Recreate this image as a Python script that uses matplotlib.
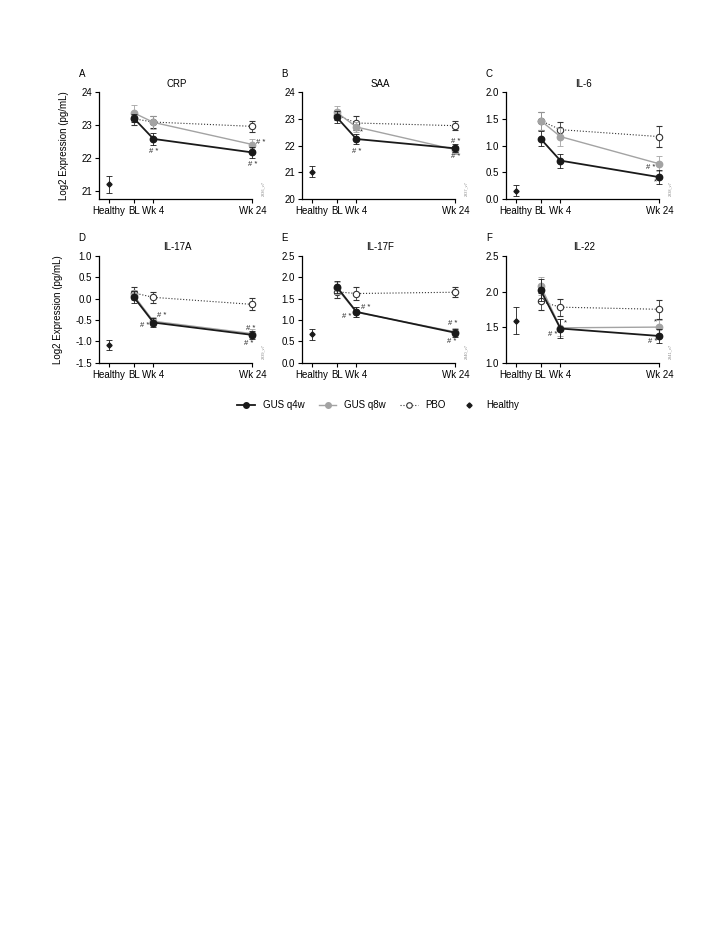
import numpy as np
import matplotlib
matplotlib.use('Agg')
import matplotlib.pyplot as plt
from matplotlib.lines import Line2D

plt.rcParams['font.family'] = ['Liberation Sans', 'DejaVu Sans']
plt.rcParams['axes.unicode_minus'] = False

# data
panels = ['CRP', 'SAA', 'IL-6', 'IL-17A', 'IL-17F', 'IL-22']
letters = ['A', 'B', 'C', 'D', 'E', 'F']
weeks = [0, 4, 24]
healthy_x = -5
xtick_pos = [-5, 0, 4, 24]
xtick_labels = ['Healthy', 'BL', 'Wk 4', 'Wk 24']
codes = ['2836_v7', '2837_v7', '2838_v7', '2839_v7', '2840_v7', '2841_v7']

q4w_mean = [[23.22, 22.59, 22.18], [23.07, 22.25, 21.90], [1.13, 0.72, 0.41],
            [0.04, -0.56, -0.85], [1.78, 1.19, 0.70], [2.02, 1.48, 1.375]]
q4w_err = [[0.12, 0.18, 0.18], [0.22, 0.19, 0.15], [0.14, 0.13, 0.13],
           [0.14, 0.10, 0.10], [0.14, 0.12, 0.10], [0.15, 0.13, 0.10]]
q8w_mean = [[23.38, 23.09, 22.42], [23.25, 22.70, 21.85], [1.47, 1.17, 0.66],
            [0.08, -0.53, -0.82], [1.75, 1.18, 0.72], [2.08, 1.49, 1.50]]
q8w_err = [[0.24, 0.20, 0.17], [0.25, 0.20, 0.15], [0.17, 0.17, 0.14],
           [0.12, 0.10, 0.10], [0.13, 0.12, 0.10], [0.13, 0.12, 0.10]]
pbo_mean = [[23.20, 23.10, 22.97], [23.15, 22.85, 22.75], [1.47, 1.30, 1.17],
            [0.135, 0.03, -0.135], [1.66, 1.62, 1.65], [1.86, 1.78, 1.75]]
pbo_err = [[0.20, 0.18, 0.16], [0.20, 0.25, 0.18], [0.17, 0.15, 0.20],
           [0.13, 0.13, 0.14], [0.14, 0.15, 0.12], [0.12, 0.12, 0.13]]
healthy_mean = [21.22, 21.03, 0.16, -1.09, 0.67, 1.59]
healthy_err = [0.26, 0.20, 0.10, 0.12, 0.13, 0.19]

ylims = [(20.77, 24), (20, 24), (0, 2), (-1.5, 1), (0, 2.5), (1, 2.5)]
yticks = [[21, 22, 23, 24], [20, 21, 22, 23, 24], [0, 0.5, 1.0, 1.5, 2.0],
          [-1.5, -1.0, -0.5, 0, 0.5, 1.0], [0, 0.5, 1.0, 1.5, 2.0, 2.5],
          [1.0, 1.5, 2.0, 2.5]]

# significance marks: (x, y, text)
marks = [
    [(4, 22.21, '# *'), (25.7, 22.47, '# *'), (24, 21.81, '# *')],
    [(5, 22.53, '*'), (4, 21.77, '# *'), (24, 22.15, '# *'), (24, 21.6, '# *')],
    [(22.2, 0.59, '# *'), (23.2, 0.33, '*')],
    [(2.2, -0.64, '# *'), (5.6, -0.385, '# *'), (23.6, -0.69, '# *'), (23.2, -1.06, '# *')],
    [(2.0, 1.07, '# *'), (5.9, 1.285, '# *'), (23.5, 0.92, '# *'), (23.2, 0.5, '# *')],
    [(5.1, 1.56, '*'), (2.4, 1.40, '# *'), (23.2, 1.58, '*'), (22.6, 1.295, '# *')],
]

black = '#1a1a1a'
gray = '#a3a3a3'

fig = plt.figure(figsize=(7.28, 9.42), dpi=100)

lefts = [0.136, 0.4148, 0.695]
bottoms = [0.7887, 0.615]
w = 0.2142
h = 0.1133

for i in range(6):
    row = i // 3
    col = i % 3
    ax = fig.add_axes([lefts[col], bottoms[row], w, h])

    ax.errorbar(weeks, pbo_mean[i], yerr=pbo_err[i], color='#333333', linestyle=':',
                linewidth=0.8, marker='o', markersize=4.6, markerfacecolor='white',
                markeredgecolor='#333333', markeredgewidth=0.8, elinewidth=0.6,
                capsize=2, capthick=0.6, zorder=2)
    ax.errorbar(weeks, q8w_mean[i], yerr=q8w_err[i], color=gray, linewidth=1.0,
                marker='o', markersize=4.6, elinewidth=0.6, capsize=2, capthick=0.6,
                zorder=3)
    ax.errorbar(weeks, q4w_mean[i], yerr=q4w_err[i], color=black, linewidth=1.3,
                marker='o', markersize=4.6, elinewidth=0.6, capsize=2, capthick=0.6,
                zorder=4)
    ax.errorbar([healthy_x], [healthy_mean[i]], yerr=[healthy_err[i]], color=black,
                marker='D', markersize=2.6, elinewidth=0.6, capsize=2, capthick=0.6,
                linestyle='none', zorder=4)

    for (mx, my, txt) in marks[i]:
        ax.text(mx, my, txt, fontsize=5.5, color='#222222', ha='center', va='center',
                clip_on=False)

    ax.set_xlim(-7, 24.5)
    ax.set_ylim(*ylims[i])
    ax.spines['top'].set_visible(False)
    ax.spines['right'].set_visible(False)
    ax.spines['left'].set_linewidth(0.9)
    ax.spines['bottom'].set_linewidth(0.9)
    ax.spines['bottom'].set_bounds(-7, 24)
    ax.set_xticks(xtick_pos)
    ax.set_xticklabels(xtick_labels)
    ax.set_yticks(yticks[i])
    if i < 2:
        ax.set_yticklabels([str(int(v)) for v in yticks[i]])
    else:
        ax.set_yticklabels([f'{v:.1f}' for v in yticks[i]])
    ax.tick_params(axis='both', labelsize=7, length=3, width=0.8, pad=2)
    ax.set_title(panels[i], fontsize=7, pad=4)
    ax.text(-0.11, 1.17, letters[i], transform=ax.transAxes, fontsize=7,
            ha='center', va='center')
    ax.text(1.055, 0.03, codes[i], transform=ax.transAxes, fontsize=2.8,
            color='#888888', rotation=90, ha='center', va='bottom')
    if col == 0:
        ax.set_ylabel('Log2 Expression (pg/mL)', fontsize=7, labelpad=9)
    for e in ax.get_lines():
        e.set_clip_on(False)

handles = [
    Line2D([0], [0], color=black, linewidth=1.3, marker='o', markersize=4),
    Line2D([0], [0], color=gray, linewidth=1.0, marker='o', markersize=4),
    Line2D([0], [0], color='#333333', linewidth=0.8, linestyle=':', marker='o',
           markersize=4, markerfacecolor='white', markeredgewidth=0.8),
    Line2D([0], [0], color=black, linestyle='none', marker='D', markersize=2.6),
]
leg = fig.legend(handles, ['GUS q4w', 'GUS q8w', 'PBO', 'Healthy'], loc='center',
                 bbox_to_anchor=(378 / 728, 1 - 405 / 942), ncol=4, frameon=False,
                 fontsize=7, handlelength=1.8, handletextpad=0.8, columnspacing=1.5)

fig.savefig('out.png', dpi=100)
